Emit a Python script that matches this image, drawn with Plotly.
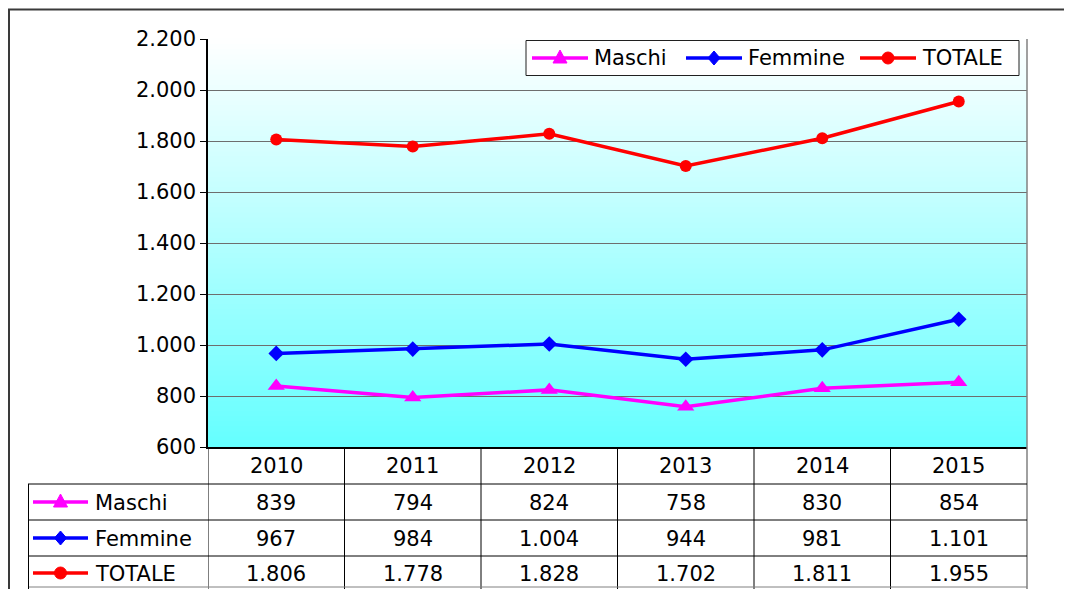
import plotly.graph_objects as go

years = ["2010", "2011", "2012", "2013", "2014", "2015"]
maschi = [839, 794, 824, 758, 830, 854]
femmine = [967, 984, 1004, 944, 981, 1101]
totale = [1806, 1778, 1828, 1702, 1811, 1955]
series_names = ["Maschi", "Femmine", "TOTALE"]
series_values = [maschi, femmine, totale]
series_colors = ["#FF00FF", "#0000FF", "#FF0000"]
series_symbols = ["triangle-up", "diamond", "circle"]
series_sizes = [15, 12, 12]
y_ticks = [600, 800, 1000, 1200, 1400, 1600, 1800, 2000, 2200]

OFF = 8  # browser body margin
PW, PH = 1072, 589  # page size
L, R, T, B = 208, 1027, 39, 447  # plot area in page pixels
W, H = PW - OFF, PH - OFF
FONT = "Verdana, DejaVu Sans, sans-serif"
FS = 21


def px(x):
    return (x - L) / (R - L)


def py(y):
    return (B - y) / (B - T)


def fmt(v):
    return f"{v:,}".replace(",", ".")


fig = go.Figure()
for name, vals, col, sym, sz in zip(series_names, series_values, series_colors, series_symbols, series_sizes):
    fig.add_trace(go.Scatter(
        x=years, y=vals, name=name, mode="lines+markers",
        line=dict(color=col, width=3.5),
        marker=dict(symbol=sym, size=sz, color=col),
        showlegend=False,
    ))

shapes = []
annotations = []

# gradient background of plot area
N = 80
top_c = (255, 255, 255)
bot_c = (100, 255, 255)
for i in range(N):
    t = (i + 0.5) / N  # 0 bottom -> 1 top
    c = tuple(int(round(bot_c[k] + (top_c[k] - bot_c[k]) * t)) for k in range(3))
    shapes.append(dict(type="rect", xref="paper", yref="paper", x0=0, x1=1,
                       y0=i / N, y1=(i + 1) / N + 0.002, layer="below",
                       line=dict(width=0), fillcolor=f"rgb{c}"))

# plot area right border
shapes.append(dict(type="line", xref="paper", yref="paper", x0=1, x1=1, y0=1, y1=py(592),
                   line=dict(color="#808080", width=1.5)))

# outer frame
shapes.append(dict(type="line", xref="paper", yref="paper", x0=px(8), x1=px(1072), y0=py(9.5), y1=py(9.5),
                   line=dict(color="#3a3a3a", width=2)))
shapes.append(dict(type="line", xref="paper", yref="paper", x0=px(9), x1=px(9), y0=py(9), y1=py(592),
                   line=dict(color="#3a3a3a", width=2)))


def add_key(x0, x1, yc, col, sym):
    shapes.append(dict(type="line", xref="paper", yref="paper", x0=px(x0), x1=px(x1), y0=py(yc), y1=py(yc),
                       line=dict(color=col, width=3.5)))
    cx, cy = (x0 + x1) / 2, yc
    if sym == "circle":
        shapes.append(dict(type="circle", xref="paper", yref="paper", x0=px(cx - 6), x1=px(cx + 6),
                           y0=py(cy - 6), y1=py(cy + 6), fillcolor=col, line=dict(color=col, width=1)))
    elif sym == "diamond":
        path = (f"M {px(cx)} {py(cy - 7)} L {px(cx + 6)} {py(cy)} L {px(cx)} {py(cy + 7)} "
                f"L {px(cx - 6)} {py(cy)} Z")
        shapes.append(dict(type="path", xref="paper", yref="paper", path=path, fillcolor=col,
                           line=dict(color=col, width=1)))
    else:
        path = f"M {px(cx)} {py(cy - 8)} L {px(cx + 7)} {py(cy + 5)} L {px(cx - 7)} {py(cy + 5)} Z"
        shapes.append(dict(type="path", xref="paper", yref="paper", path=path, fillcolor=col,
                           line=dict(color=col, width=1)))


# legend box (top right)
shapes.append(dict(type="rect", xref="paper", yref="paper", x0=px(526), x1=px(1019), y0=py(40.5), y1=py(75.5),
                   fillcolor="white", line=dict(color="#202020", width=1)))
legend_keys = [(532, 588), (686, 742), (860, 916)]
for name, col, sym, (k0, k1) in zip(series_names, series_colors, series_symbols, legend_keys):
    add_key(k0, k1, 58, col, sym)
    annotations.append(dict(x=px(k1 + 4), xref="paper", y=py(58), yref="paper", text=name, showarrow=False,
                            xanchor="left", yanchor="middle", font=dict(family=FONT, size=FS, color="black")))

# table grid
for i in range(len(years)):
    shapes.append(dict(type="line", xref="x", yref="paper", x0=i - 0.5, x1=i - 0.5,
                       y0=py(447), y1=py(592), line=dict(color="black", width=1)))
for yy in [484, 520, 556]:
    shapes.append(dict(type="line", xref="paper", yref="paper", x0=px(28), x1=1, y0=py(yy), y1=py(yy),
                       line=dict(color="black", width=1)))
shapes.append(dict(type="line", xref="paper", yref="paper", x0=px(28), x1=1, y0=py(587), y1=py(587),
                   line=dict(color="#808080", width=1)))
shapes.append(dict(type="line", xref="paper", yref="paper", x0=px(28.5), x1=px(28.5), y0=py(484), y1=py(592),
                   line=dict(color="black", width=1)))

for i, yr in enumerate(years):
    annotations.append(dict(x=i, xref="x", y=py(466), yref="paper", text=yr, showarrow=False,
                            xanchor="center", yanchor="middle", font=dict(family=FONT, size=FS, color="black")))

row_centers = [502, 538, 573]
for name, vals, col, sym, yc in zip(series_names, series_values, series_colors, series_symbols, row_centers):
    add_key(33, 88, yc, col, sym)
    annotations.append(dict(x=px(93), xref="paper", y=py(yc + 1), yref="paper", text=name, showarrow=False,
                            xanchor="left", yanchor="middle", font=dict(family=FONT, size=FS, color="black")))
    for i, v in enumerate(vals):
        annotations.append(dict(x=i, xref="x", y=py(yc + 1), yref="paper", text=fmt(v), showarrow=False,
                                xanchor="center", yanchor="middle",
                                font=dict(family=FONT, size=FS, color="black")))

fig.update_layout(
    width=W, height=H, autosize=False,
    margin=dict(l=L - OFF, r=W - (R - OFF), t=T - OFF, b=H - (B - OFF), pad=0),
    paper_bgcolor="white", plot_bgcolor="rgba(0,0,0,0)",
    font=dict(family=FONT, size=FS, color="black"),
    showlegend=False,
    xaxis=dict(type="category", range=[-0.5, len(years) - 0.5], showticklabels=False, showgrid=False,
               showline=True, linecolor="black", linewidth=1.5, ticks="", zeroline=False),
    yaxis=dict(range=[600, 2200], tickvals=y_ticks, ticktext=[fmt(v) for v in y_ticks],
               showgrid=True, gridcolor="#6e6e6e", gridwidth=1,
               showline=True, linecolor="black", linewidth=1.5, ticks="outside", ticklen=6,
               tickcolor="black", zeroline=False, tickfont=dict(family=FONT, size=FS, color="black")),
    shapes=shapes, annotations=annotations,
)

fig.write_html("out.html")
